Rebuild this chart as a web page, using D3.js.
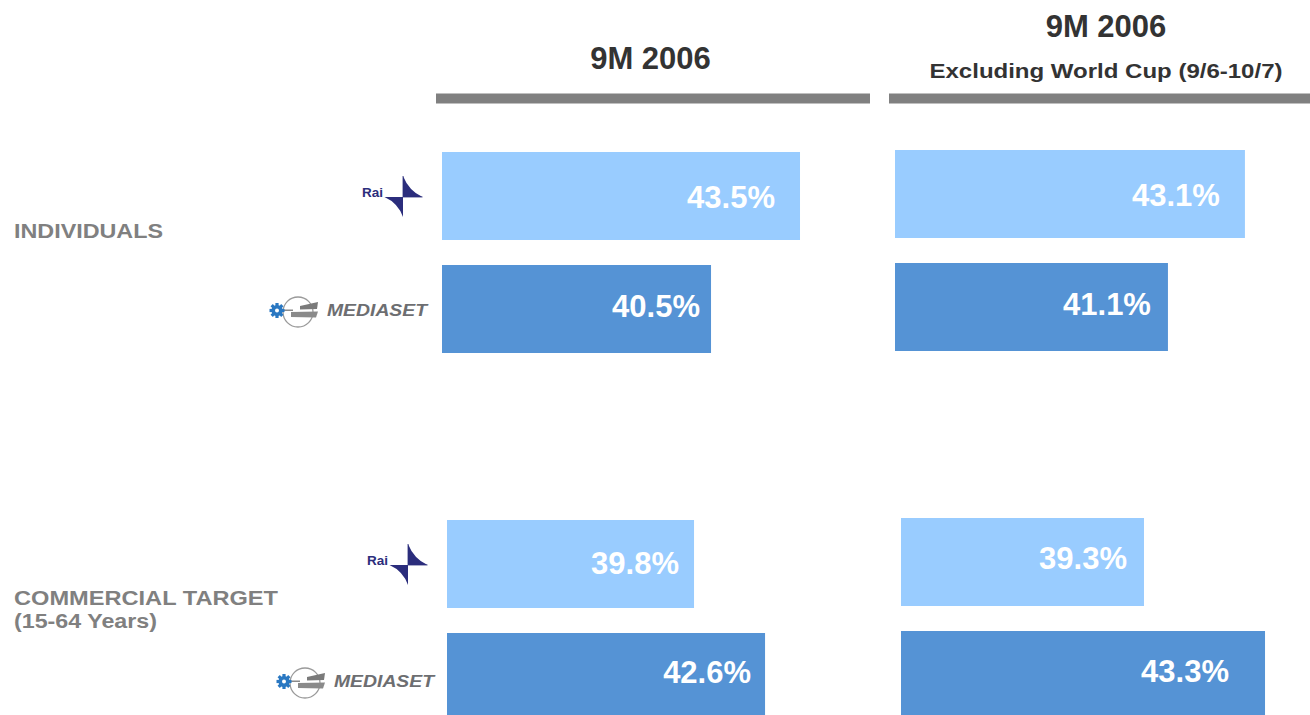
<!DOCTYPE html>
<html>
<head>
<meta charset="utf-8">
<script src="https://cdn.jsdelivr.net/npm/d3@7"></script>
<style>
  html, body { margin: 0; padding: 0; background: #ffffff; }
  svg { display: block; font-family: "Liberation Sans", Arial, sans-serif; }
</style>
</head>
<body>
<svg id="chart" width="1310" height="715"></svg>
<script>
// ---------------- DATA ----------------
const panelTitles = ["9M 2006", "9M 2006"];
const panelSubtitles = ["", "Excluding World Cup (9/6-10/7)"];
const targetLines = [["INDIVIDUALS"], ["COMMERCIAL TARGET", "(15-64 Years)"]];
const broadcasters = ["Rai", "Mediaset"];
// audience share (%), order: Rai, Mediaset
const individualsTotal = [43.5, 40.5];
const individualsExWorldCup = [43.1, 41.1];
const commercialTotal = [39.8, 42.6];
const commercialExWorldCup = [39.3, 43.3];
// value-axis extents of each (non zero-based) block: TL, TR, BL, BR
const axisMin = [31.43, 34.01, 30.06, 31.27];
const axisMax = [45.59, 44.92, 46.62, 45.15];

// ---------------- LAYOUT ----------------
const W = 1310, H = 715;
const barRange = 420;
const blocks = [
  { values: individualsTotal,      x0: 442, y0: 152, pad: [25, 11], dy: [12, 7.7] },
  { values: individualsExWorldCup, x0: 895, y0: 150, pad: [25, 17], dy: [11.7, 8] },
  { values: commercialTotal,       x0: 447, y0: 520, pad: [15, 14], dy: [10.3, 6] },
  { values: commercialExWorldCup,  x0: 901, y0: 518, pad: [17, 36], dy: [7, 6.7] }
];
const colors = { Rai: "#99ccff", Mediaset: "#5593d5" };

const svg = d3.select("#chart");
svg.append("rect").attr("width", W).attr("height", H).attr("fill", "#fff");

// panel headers
const headers = [
  { cx: 650.5, titleY: 69, subY: null, barX: 436, barW: 434 },
  { cx: 1106,  titleY: 37, subY: 78,   barX: 889, barW: 421 }
];
headers.forEach((h, i) => {
  svg.append("text")
    .attr("x", h.cx).attr("y", h.titleY)
    .attr("text-anchor", "middle")
    .attr("font-size", 31).attr("font-weight", "bold")
    .attr("fill", "#333333")
    .text(panelTitles[i]);
  if (panelSubtitles[i]) {
    svg.append("text")
      .attr("x", h.cx - 176.5).attr("y", h.subY)
      .attr("font-size", 20).attr("font-weight", "bold")
      .attr("fill", "#333333")
      .attr("textLength", 353).attr("lengthAdjust", "spacingAndGlyphs")
      .text(panelSubtitles[i]);
  }
  svg.append("rect")
    .attr("x", h.barX).attr("y", 93.5)
    .attr("width", h.barW).attr("height", 10)
    .attr("fill", "#808080");
});

// row (target) labels
const rowLabels = [
  { x: 14, ys: [238], lens: [149] },
  { x: 14, ys: [605, 628], lens: [264, 143] }
];
rowLabels.forEach((r, i) => {
  targetLines[i].forEach((line, j) => {
    svg.append("text")
      .attr("x", r.x).attr("y", r.ys[j])
      .attr("font-size", 20).attr("font-weight", "bold")
      .attr("fill", "#808080")
      .attr("textLength", r.lens[j]).attr("lengthAdjust", "spacingAndGlyphs")
      .text(line);
  });
});

// bars
blocks.forEach((b, bi) => {
  const x = d3.scaleLinear().domain([axisMin[bi], axisMax[bi]]).range([0, barRange]);
  const y = d3.scaleBand().domain(broadcasters).range([b.y0, b.y0 + 201]).paddingInner(25 / 113).paddingOuter(0);
  const g = svg.append("g").attr("transform", `translate(${b.x0},0)`);
  const rows = broadcasters.map((name, k) => ({ name, value: b.values[k], pad: b.pad[k], dy: b.dy[k] }));
  g.selectAll("rect.bar").data(rows).join("rect")
    .attr("class", "bar")
    .attr("x", x(axisMin[bi]))
    .attr("y", d => y(d.name))
    .attr("width", d => x(d.value) - x(axisMin[bi]))
    .attr("height", y.bandwidth())
    .attr("fill", d => colors[d.name]);
  g.selectAll("text.val").data(rows).join("text")
    .attr("class", "val")
    .attr("x", d => x(d.value) - d.pad)
    .attr("y", d => y(d.name) + y.bandwidth() / 2 + d.dy)
    .attr("text-anchor", "end")
    .attr("font-size", 31).attr("font-weight", "bold")
    .attr("fill", "#ffffff")
    .text(d => d.value.toFixed(1) + "%");
});

// ---------------- LOGOS ----------------
function raiLogo(tx, ty) {
  const g = svg.append("g").attr("transform", `translate(${tx},${ty})`);
  g.append("text").attr("x", 0).attr("y", 0)
    .attr("font-size", 13.5).attr("font-weight", "bold")
    .attr("fill", "#2b2d7c").text("Rai");
  const s = g.append("g").attr("transform", "translate(41,0)");
  s.append("path").attr("d", "M0,-21 Q6,-6 19.5,0 L0,0 Z").attr("fill", "#2b2d7c");
  s.append("path").attr("d", "M-18.5,0 Q-5,6 0,20 L0,0 Z").attr("fill", "#2b2d7c");
  s.append("path").attr("d", "M0,-21 L0,0 M0,0 L19.5,0").attr("stroke", "#2b2d7c").attr("stroke-width", 0.8).attr("fill", "none");
}
function mediasetLogo(tx, ty) {
  const g = svg.append("g").attr("transform", `translate(${tx},${ty})`);
  g.append("circle").attr("cx", -29).attr("cy", -4).attr("r", 15)
    .attr("fill", "none").attr("stroke", "#9a9a9a").attr("stroke-width", 1.3);
  g.append("path").attr("d", "M-27,-10 L-9,-14 L-10,-7 L-27,-6.5 Z").attr("fill", "#7a7a7a");
  g.append("path").attr("d", "M-36,-4 L-9,-4.5 L-11,1.5 L-36,1 Z").attr("fill", "#8a8a8a");
  g.append("rect").attr("x", -44).attr("y", -6.5).attr("width", 10).attr("height", 1.5).attr("fill", "#8a8a8a");
  const gear = g.append("g").attr("transform", "translate(-50,-5.5)");
  d3.range(8).forEach(k => {
    gear.append("rect").attr("x", -1.6).attr("y", -7.5).attr("width", 3.2).attr("height", 4)
      .attr("fill", "#2a78c2").attr("transform", `rotate(${k * 45})`);
  });
  gear.append("circle").attr("r", 5.5).attr("fill", "#2a78c2");
  gear.append("circle").attr("r", 2).attr("fill", "#ffffff");
  g.append("text").attr("x", 0).attr("y", 0)
    .attr("font-size", 16).attr("font-weight", "bold").attr("font-style", "italic")
    .attr("fill", "#6d6e71")
    .attr("textLength", 100).attr("lengthAdjust", "spacingAndGlyphs")
    .text("MEDIASET");
}
raiLogo(362, 197);
mediasetLogo(327, 316);
raiLogo(367, 565);
mediasetLogo(334, 687);
</script>
</body>
</html>
